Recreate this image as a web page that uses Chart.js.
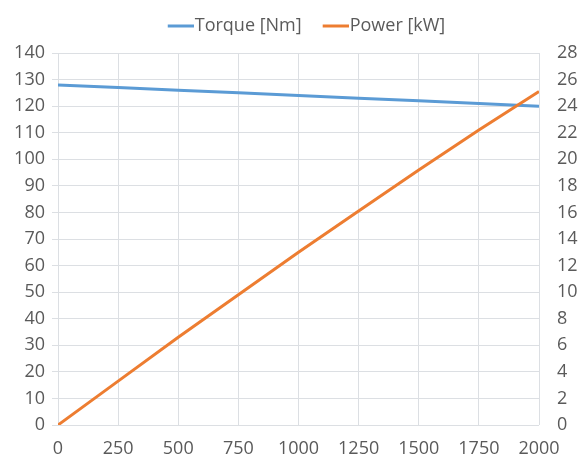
<!DOCTYPE html>
<html>
<head>
<meta charset="utf-8">
<script src="https://cdn.jsdelivr.net/npm/chart.js@4.4.1/dist/chart.umd.min.js"></script>
<style>
  html, body { margin: 0; padding: 0; background: #ffffff; }
  #wrap { position: relative; width: 583px; height: 457px; }
</style>
</head>
<body>
<div id="wrap"><canvas id="c" width="583" height="457"></canvas></div>
<script>
// ---- data ----
const rpm = [0, 250, 500, 750, 1000, 1250, 1500, 1750, 2000];
const torqueNm = [128, 127, 126, 125, 124, 123, 122, 121, 120];
const powerKW = [0, 3.3, 6.6, 9.8, 13.0, 16.1, 19.2, 22.2, 25.1];
const seriesNames = ['Torque [Nm]', 'Power [kW]'];
const leftTicks = [0, 10, 20, 30, 40, 50, 60, 70, 80, 90, 100, 110, 120, 130, 140];
const rightTicks = [0, 2, 4, 6, 8, 10, 12, 14, 16, 18, 20, 22, 24, 26, 28];

const textColor = '#5a5a5a';
const gridColor = '#dcdfe3';
const blue = '#5b9bd5';
const orange = '#ed7d31';
const font = { family: '"Open Sans", sans-serif', size: 18 };

const toPts = (ys) => rpm.map((x, i) => ({ x: x, y: ys[i] }));

// legend line symbol: a short line hugging the text
const SYM_W = 26, SHIFT = 8;
function legendLine(color) {
  const c = document.createElement('canvas');
  c.width = SYM_W + 2 * SHIFT; c.height = 6;
  const g = c.getContext('2d');
  g.strokeStyle = color; g.lineWidth = 3;
  g.beginPath(); g.moveTo(2 * SHIFT, 3); g.lineTo(c.width, 3); g.stroke();
  return c;
}
const symbols = [legendLine(blue), legendLine(orange)];

const legendNudge = {
  id: 'legendNudge',
  afterLayout(chart) {
    const lg = chart.legend;
    if (!lg) return;
    lg.left += 11; lg.right += 11;
    lg.top -= 8; lg.bottom -= 8;
  }
};

new Chart(document.getElementById('c'), {
  type: 'line',
  data: {
    datasets: [
      { label: seriesNames[0], data: toPts(torqueNm), yAxisID: 'y', borderColor: blue, backgroundColor: blue, borderWidth: 3, pointRadius: 0, tension: 0, order: 1, pointStyle: symbols[0] },
      { label: seriesNames[1], data: toPts(powerKW), yAxisID: 'y2', borderColor: orange, backgroundColor: orange, borderWidth: 3, pointRadius: 0, tension: 0, order: 0, pointStyle: symbols[1] }
    ]
  },
  plugins: [legendNudge],
  options: {
    responsive: false,
    animation: false,
    devicePixelRatio: 1,
    layout: { padding: { top: 12, left: 0, right: 0, bottom: 0 } },
    plugins: {
      tooltip: { enabled: false },
      legend: {
        position: 'top',
        labels: {
          usePointStyle: true,
          pointStyleWidth: SYM_W,
          boxHeight: 16,
          padding: 13,
          color: textColor,
          font: font,
          sort: (a, b) => a.datasetIndex - b.datasetIndex
        }
      }
    },
    scales: {
      x: {
        type: 'linear',
        min: 0, max: 2000,
        afterBuildTicks: (s) => { s.ticks = rpm.map(v => ({ value: v })); },
        afterFit: (s) => { s.height = 32; },
        grid: { color: gridColor, lineWidth: 1, drawTicks: false },
        border: { display: false },
        ticks: { color: textColor, font: font, padding: 13, maxRotation: 0, callback: (v) => String(v) }
      },
      y: {
        position: 'left',
        min: 0, max: 140,
        afterBuildTicks: (s) => { s.ticks = leftTicks.map(v => ({ value: v })); },
        afterFit: (s) => { s.width = 58; },
        grid: { color: gridColor, lineWidth: 1, drawTicks: true, tickLength: 6 },
        border: { display: false },
        ticks: { color: textColor, font: font, padding: 7 }
      },
      y2: {
        position: 'right',
        min: 0, max: 28,
        afterBuildTicks: (s) => { s.ticks = rightTicks.map(v => ({ value: v })); },
        afterFit: (s) => { s.width = 44; },
        grid: { drawOnChartArea: false, drawTicks: false },
        border: { display: false },
        ticks: { color: textColor, font: font, padding: 18 }
      }
    }
  }
});
</script>
</body>
</html>
